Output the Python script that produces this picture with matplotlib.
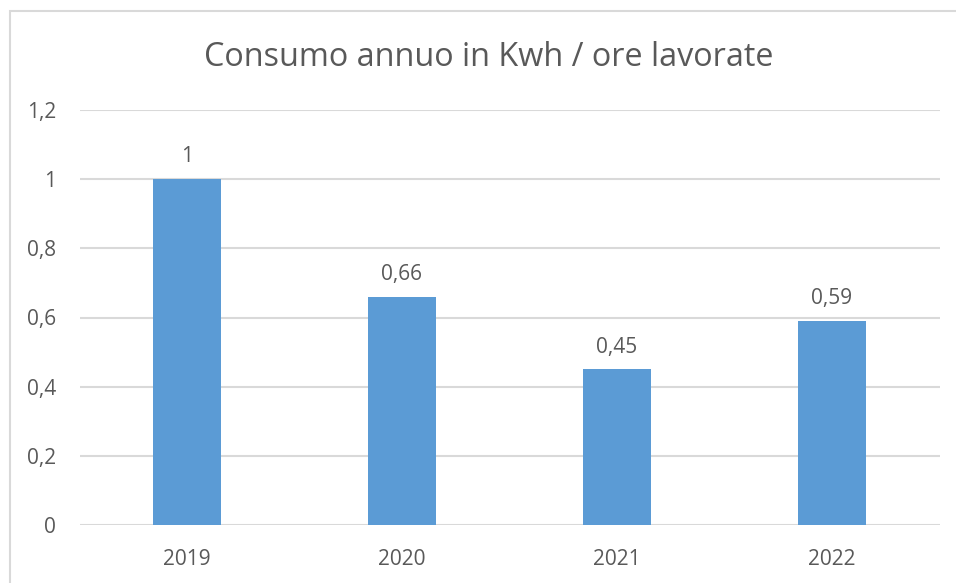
import matplotlib
matplotlib.use('Agg')
import matplotlib.pyplot as plt
from matplotlib.patches import Rectangle

years = ['2019', '2020', '2021', '2022']
values = [1.0, 0.66, 0.45, 0.59]
value_labels = ['1', '0,66', '0,45', '0,59']
y_ticks = [0, 0.2, 0.4, 0.6, 0.8, 1.0, 1.2]
y_tick_labels = ['0', '0,2', '0,4', '0,6', '0,8', '1', '1,2']

text_color = '#595959'
grid_color = '#d9d9d9'

plt.rcParams['font.family'] = ['Open Sans', 'DejaVu Sans']

fig = plt.figure(figsize=(9.56, 5.83), dpi=100)
fig.patches.append(Rectangle((9.5 / 956, -0.1), 1.2, (583 - 10.5) / 583 + 0.1,
                             transform=fig.transFigure, facecolor='none',
                             edgecolor=grid_color, linewidth=1.5))

ax = fig.add_axes([79.5 / 956, 58 / 583, 860 / 956, 415 / 583])
x = range(len(years))
bars = ax.bar(x, values, width=0.316, color='#5b9bd5', zorder=3)

for xi, v, lab in zip(x, values, value_labels):
    ax.annotate(lab, (xi, v), xytext=(0, 16), textcoords='offset points',
                ha='center', va='center', fontsize=15, color=text_color)

ax.set_xlim(-0.5, len(years) - 0.5)
ax.set_ylim(0, 1.2)
ax.set_yticks(y_ticks)
ax.set_yticklabels(y_tick_labels)
ax.set_xticks(list(x))
ax.set_xticklabels(years)
ax.tick_params(axis='both', length=0, labelsize=15, labelcolor=text_color)
ax.tick_params(axis='y', pad=17)
ax.tick_params(axis='x', pad=17)
ax.grid(axis='y', color=grid_color, linewidth=1.5, zorder=0)
for s in ax.spines.values():
    s.set_visible(False)

fig.text(489 / 956, 1 - 57 / 583, 'Consumo annuo in Kwh / ore lavorate',
         ha='center', va='center', fontsize=23.3, color=text_color)

fig.savefig('out.png', dpi=100)
